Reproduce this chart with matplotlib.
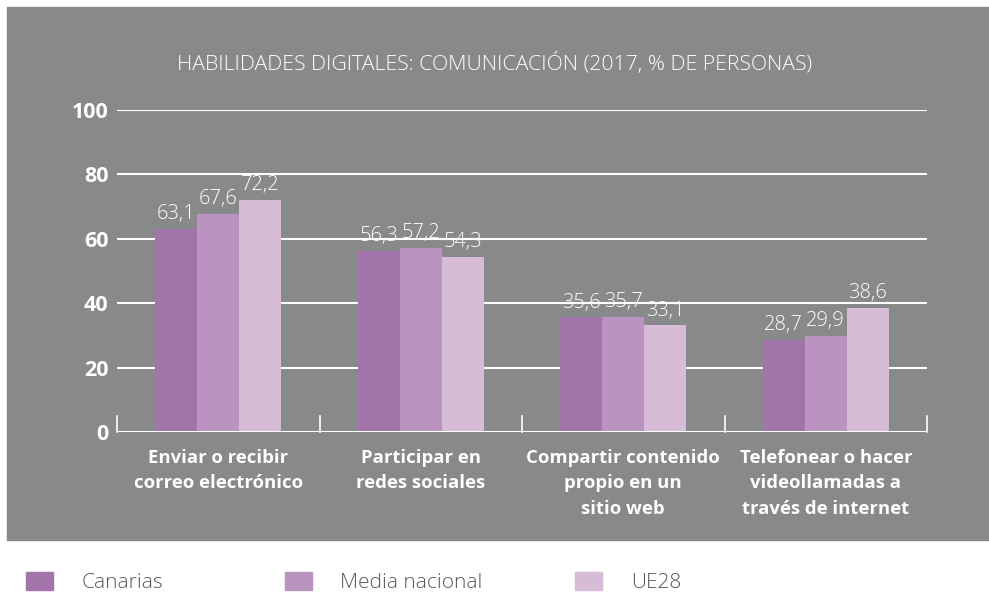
import matplotlib.pyplot as plt
import matplotlib.patches as mpatches
import numpy as np

# datos
categorias = ["Enviar o recibir\ncorreo electrónico",
              "Participar en\nredes sociales",
              "Compartir contenido\npropio en un\nsitio web",
              "Telefonear o hacer\nvideollamadas a\ntravés de internet"]
series = ["Canarias", "Media nacional", "UE28"]
canarias = [63.1, 56.3, 35.6, 28.7]
media_nacional = [67.6, 57.2, 35.7, 29.9]
ue28 = [72.2, 54.3, 33.1, 38.6]
colores = ["#a374aa", "#bb93c1", "#d6bcd6"]
titulo = "HABILIDADES DIGITALES: COMUNICACIÓN (2017, % DE PERSONAS)"

plt.rcParams['font.family'] = ['Open Sans', 'DejaVu Sans']
gris = "#88898b"

fig = plt.figure(figsize=(9.89, 5.92), dpi=100)
fig.patch.set_facecolor("white")
# panel gris de fondo
fondo = mpatches.Rectangle((7 / 989, 52 / 592), 1 - 7 / 989, 533 / 592,
                           transform=fig.transFigure, color=gris, zorder=-10)
fig.add_artist(fondo)

ax = fig.add_axes([117 / 989, 160 / 592, 810 / 989, 322 / 592])
ax.set_facecolor("none")
ax.set_xlim(0, 4)
ax.set_ylim(0, 100)

x = np.arange(len(categorias)) + 0.5
ancho = 0.208
for i, (valores, nombre) in enumerate(zip([canarias, media_nacional, ue28], series)):
    pos = x + (i - 1) * ancho
    ax.bar(pos, valores, width=ancho, color=colores[i], zorder=3, label=nombre)
    for px, v in zip(pos, valores):
        ax.text(px, v + 1.5, f"{v:.1f}".replace(".", ","), ha="center", va="bottom",
                color="white", fontsize=14.5, fontweight="light", zorder=4)

# rejilla
for y in [20, 40, 60, 80, 100]:
    ax.axhline(y, color="white", lw=1.5, zorder=1)
ax.axhline(0, color="white", lw=1.5, zorder=5)
for sx in [0, 1, 2, 3, 4]:
    ax.plot([sx, sx], [0, 5], color="white", lw=1.2, zorder=5, clip_on=False)

for s in ax.spines.values():
    s.set_visible(False)
ax.set_yticks([0, 20, 40, 60, 80, 100])
ax.set_yticklabels(["0", "20", "40", "60", "80", "100"])
ax.tick_params(axis="y", length=0, pad=6, labelcolor="white", labelsize=15.5)
for t in ax.get_yticklabels():
    t.set_fontweight("bold")
ax.set_xticks(x)
ax.set_xticklabels(categorias)
ax.tick_params(axis="x", length=0, pad=12, labelcolor="white", labelsize=13.3)
for t in ax.get_xticklabels():
    t.set_fontweight("bold")
    t.set_linespacing(1.55)
    t.set_verticalalignment("top")

fig.text(0.5, 528 / 592, titulo, ha="center", va="center", color="white",
         fontsize=15.3, fontweight="light")

# leyenda
cuadros_x = [26, 285, 575]
textos_x = [82, 340, 631]
for cx, tx, nombre, c in zip(cuadros_x, textos_x, series, colores):
    fig.add_artist(mpatches.Rectangle((cx / 989, 2 / 592), 27 / 989, 18 / 592,
                                      transform=fig.transFigure, color=c))
    fig.text(tx / 989, 9 / 592, nombre, ha="left", va="center", color="#58585a",
             fontsize=15, fontweight="light")

fig.savefig("out.png", dpi=100)
